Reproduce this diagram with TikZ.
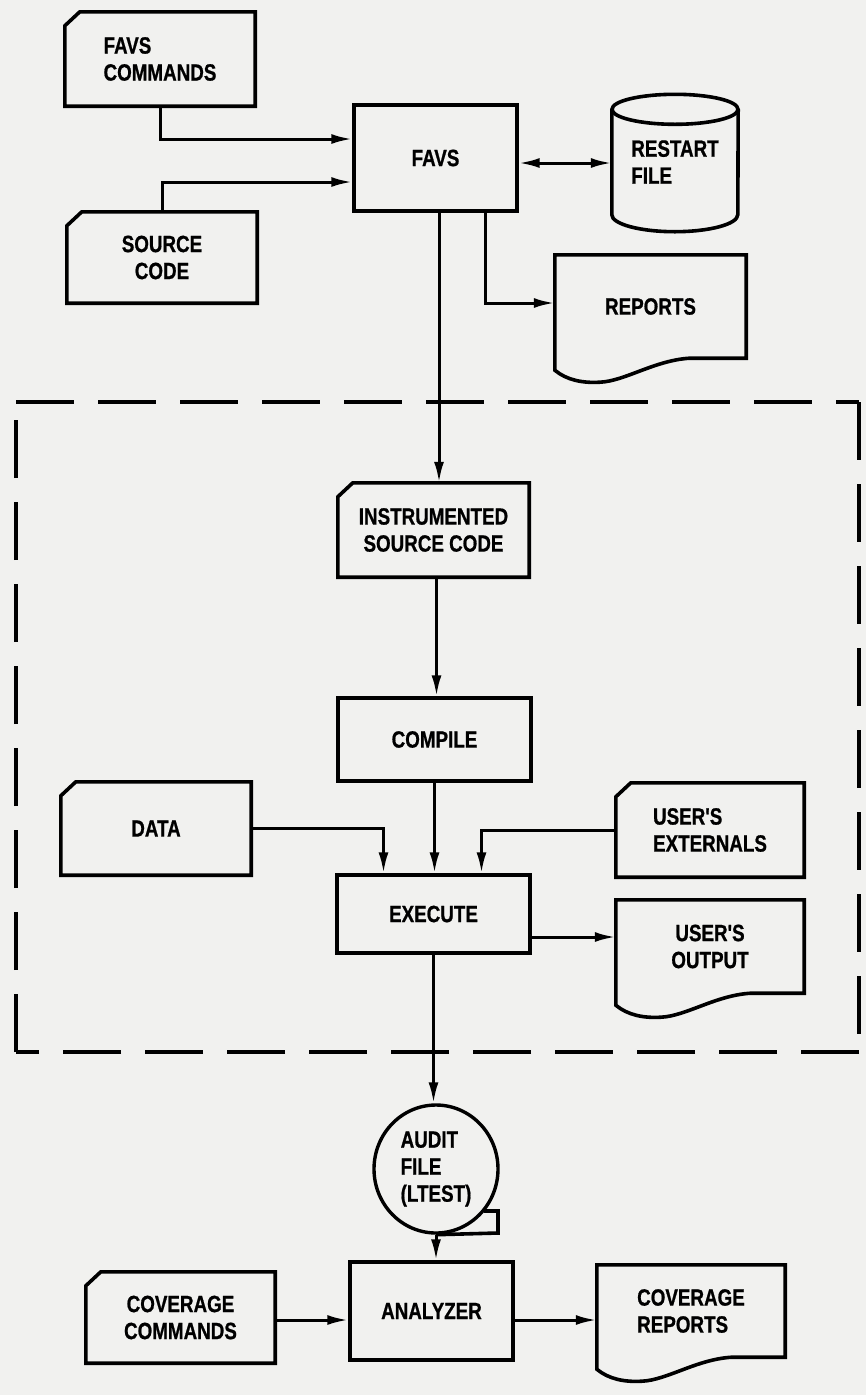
\documentclass[tikz,border=0pt]{standalone}
\usepackage{fontspec}
\setmainfont{Liberation Sans}[FakeStretch=0.8, Ligatures=TeXOff, BoldFeatures={FakeBold=0.8}]
\usetikzlibrary{arrows.meta,shapes.geometric,calc}
\definecolor{paper}{RGB}{241,241,239}
\tikzset{
  holder/.style={rectangle, align=center, inner sep=0pt},
  plainbox/.style={rectangle, draw, line width=3.4pt, align=center, inner sep=0pt},
  shapeline/.style={draw, line width=3.6pt, line join=miter},
  arrowline/.style={draw, line width=3pt, -{Latex[length=21pt,width=10pt]}},
  twoway/.style={draw, line width=3pt, {Latex[length=21pt,width=10pt]}-{Latex[length=21pt,width=10pt]}},
  framepart/.style={line width=4pt, dash pattern=on 58pt off 24pt}
}
\newcommand\cardoutline[1]{\path[shapeline] ([yshift=-14pt]#1.north west) -- ([xshift=15pt]#1.north west) -- (#1.north east) -- (#1.south east) -- (#1.south west) -- cycle;}
\newcommand\docoutline[1]{\path[shapeline] (#1.south east) -- (#1.north east) -- (#1.north west) -- ([yshift=-12pt]#1.south west)
  .. controls ([xshift=12pt,yshift=-22pt]#1.south west) and ([xshift=28pt,yshift=-25pt]#1.south west) .. ([xshift=45pt,yshift=-24pt]#1.south west)
  .. controls ([xshift=70pt,yshift=-23pt]#1.south west) and ([xshift=100pt,yshift=-2pt]#1.south west) .. ([xshift=135pt]#1.south west) -- cycle;}
\begin{document}
\begin{tikzpicture}[x=1pt,y=-1pt,font=\fontsize{23.5}{27}\selectfont\bfseries]
\fill[paper] (0,0) rectangle (866,1395);
\useasboundingbox (0,0) rectangle (866,1395);

% nodes
\node[holder, minimum width=190pt, minimum height=94pt, align=left] (favcmd) at (160,59) {FAVS\\COMMANDS};
\node[holder, minimum width=190pt, minimum height=91pt] (src) at (162,257.5) {SOURCE\\CODE};
\node[plainbox, minimum width=163pt, minimum height=106pt] (favs) at (435.5,158) {FAVS};
\node[holder, minimum width=126pt, minimum height=105pt, align=left] (restart) at (675,162) {RESTART\\FILE};
\node[holder, minimum width=191pt, minimum height=103pt] (reports) at (650.5,306.5) {REPORTS};
\node[holder, minimum width=191pt, minimum height=94pt] (instr) at (433.5,530) {INSTRUMENTED\\SOURCE CODE};
\node[plainbox, minimum width=193pt, minimum height=83pt] (compile) at (434.5,739.5) {COMPILE};
\node[holder, minimum width=190pt, minimum height=93pt] (data) at (156,828.5) {DATA};
\node[holder, minimum width=188pt, minimum height=94pt, align=left] (ext) at (710,830) {USER'S\\EXTERNALS};
\node[plainbox, minimum width=193pt, minimum height=78pt] (execute) at (433.5,914) {EXECUTE};
\node[holder, minimum width=188pt, minimum height=93pt] (output) at (710,946.5) {USER'S\\OUTPUT};
\node[ellipse, draw, line width=3.4pt, inner sep=0pt, minimum width=124pt, minimum height=128pt, align=left] (audit) at (436,1169) {AUDIT\\FILE\\(LTEST)};
\node[plainbox, minimum width=163pt, minimum height=98pt] (analyzer) at (431.5,1311) {ANALYZER};
\node[holder, minimum width=189pt, minimum height=91pt] (covcmd) at (180.5,1317.5) {COVERAGE\\COMMANDS};
\node[holder, minimum width=188pt, minimum height=92pt, align=left] (covrep) at (691,1311) {COVERAGE\\REPORTS};

% shapes
\cardoutline{favcmd}
\cardoutline{src}
\cardoutline{instr}
\cardoutline{data}
\cardoutline{ext}
\cardoutline{covcmd}
\docoutline{reports}
\docoutline{output}
\docoutline{covrep}
\path[shapeline] (restart.north west) -- (restart.south west) arc[start angle=180,end angle=360,x radius=63pt,y radius=17pt] -- (restart.north east);
\path[shapeline] (restart.north) ellipse[x radius=63pt,y radius=15pt];
% tape tail
\coordinate (tailA) at (484,1211);
\coordinate (tailB) at (498,1211);
\coordinate (tailC) at (498,1233);
\path[shapeline] (tailA) -- (tailB) -- (tailC) -- (audit.south);

% dashed frame
\coordinate (ftl) at (16,402);
\coordinate (ftr) at (859,402);
\coordinate (fbr) at (859,1052);
\coordinate (fbl) at (16,1052);
\draw[framepart] (ftl) -- (ftr);
\draw[framepart] (ftr) -- (fbr);
\draw[framepart] (fbr) -- (fbl);
\draw[framepart] (fbl) -- (ftl);

% connectors
\path[arrowline] (favcmd.south) |- ([yshift=19pt]favs.west);
\path[arrowline] (src.north) |- ([yshift=-24pt]favs.west);
\path[twoway] ([yshift=-5pt]favs.east) -- ([yshift=-5pt]favs.east -| restart.west);
\path[arrowline] ([xshift=3.5pt]favs.south) -- ([xshift=3.5pt]favs.south |- instr.north);
\path[arrowline] ([xshift=50pt]favs.south) |- ([yshift=3.5pt]reports.west);
\path[arrowline] ([xshift=3pt]instr.south) -- ([xshift=3pt]instr.south |- compile.north);
\path[arrowline] (compile.south) -- (compile.south |- execute.north);
\path[arrowline] (data.east) -| ([xshift=-50pt]execute.north);
\path[arrowline] (ext.west) -| ([xshift=48pt]execute.north);
\path[arrowline] ([yshift=-23pt]execute.east) -- ([yshift=-23pt]execute.east -| output.west);
\path[arrowline] (execute.south) -- (execute.south |- audit.north);
\path[arrowline] (audit.south) -- (audit.south |- analyzer.north);
\path[arrowline] ([yshift=-2.5pt]covcmd.east) -- ([yshift=-2.5pt]covcmd.east -| analyzer.west);
\path[arrowline] ([yshift=-9pt]analyzer.east) -- ([yshift=-9pt]analyzer.east -| covrep.west);
\end{tikzpicture}
\end{document}
